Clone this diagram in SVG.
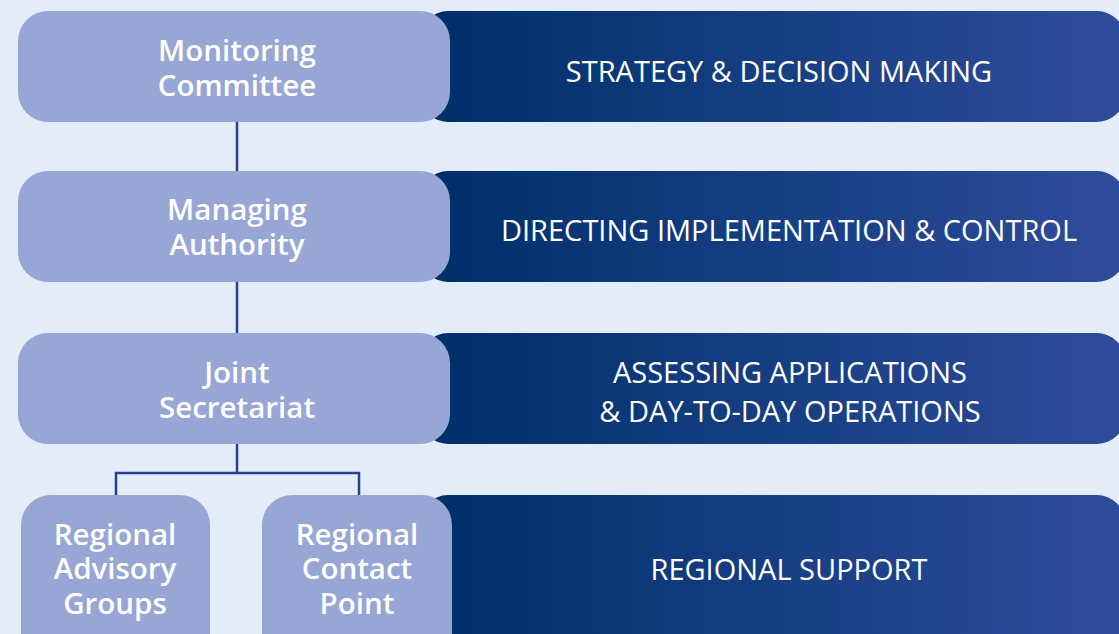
<svg xmlns="http://www.w3.org/2000/svg" width="1119" height="634" viewBox="0 0 1119 634">
<defs>
<linearGradient id="barGrad" gradientUnits="userSpaceOnUse" x1="440" y1="0" x2="1119" y2="0">
<stop offset="0" stop-color="#002F6A"/>
<stop offset="0.5" stop-color="#163F83"/>
<stop offset="1" stop-color="#2F4B9B"/>
</linearGradient>
<style>
.bar{fill:url(#barGrad);}
.node{fill:#97A6D4;}
.nt{font-family:"Open Sans","Noto Sans","Liberation Sans",sans-serif;font-size:29.5px;font-weight:600;fill:#FFFFFF;text-anchor:middle;}
.bt{font-family:"Open Sans","Noto Sans","Liberation Sans",sans-serif;font-size:29px;font-weight:400;fill:#FFFFFF;text-anchor:middle;}
.conn{fill:none;stroke:#2B3F92;stroke-width:2.5;}
</style>
</defs>
<rect x="0" y="0" width="1119" height="634" fill="#E4ECF7"/>
<g id="bars">
<rect class="bar" x="420" y="11" width="705" height="111" rx="28"/>
<rect class="bar" x="420" y="171" width="705" height="111" rx="28"/>
<rect class="bar" x="420" y="333" width="705" height="111" rx="28"/>
<rect class="bar" x="420" y="495" width="705" height="170" rx="28"/>
<text class="bt" x="779" y="82">STRATEGY &amp; DECISION MAKING</text>
<text class="bt" x="789" y="241">DIRECTING IMPLEMENTATION &amp; CONTROL</text>
<text class="bt" x="790" y="383">ASSESSING APPLICATIONS</text>
<text class="bt" x="790" y="422">&amp; DAY-TO-DAY OPERATIONS</text>
<text class="bt" x="789" y="580">REGIONAL SUPPORT</text>
</g>
<g id="connectors">
<line class="conn" x1="237" y1="122" x2="237" y2="171"/>
<line class="conn" x1="237" y1="282" x2="237" y2="333"/>
<polyline class="conn" points="237,444 237,473"/>
<polyline class="conn" points="116,495 116,473 359,473 359,495"/>
</g>
<g id="monitoring-committee">
<rect class="node" x="18" y="11" width="432" height="111" rx="30"/>
<text class="nt" x="237" y="61">Monitoring</text>
<text class="nt" x="237" y="96">Committee</text>
</g>
<g id="managing-authority">
<rect class="node" x="18" y="171" width="432" height="111" rx="30"/>
<text class="nt" x="237" y="220">Managing</text>
<text class="nt" x="237" y="255">Authority</text>
</g>
<g id="joint-secretariat">
<rect class="node" x="18" y="333" width="432" height="111" rx="30"/>
<text class="nt" x="237" y="383">Joint</text>
<text class="nt" x="237" y="418">Secretariat</text>
</g>
<g id="regional-advisory-groups">
<rect class="node" x="21" y="495" width="189" height="170" rx="30"/>
<text class="nt" x="115" y="545">Regional</text>
<text class="nt" x="115" y="579">Advisory</text>
<text class="nt" x="115" y="614">Groups</text>
</g>
<g id="regional-contact-point">
<rect class="node" x="262" y="495" width="190" height="170" rx="30"/>
<text class="nt" x="357" y="545">Regional</text>
<text class="nt" x="357" y="579">Contact</text>
<text class="nt" x="357" y="614">Point</text>
</g>
</svg>
